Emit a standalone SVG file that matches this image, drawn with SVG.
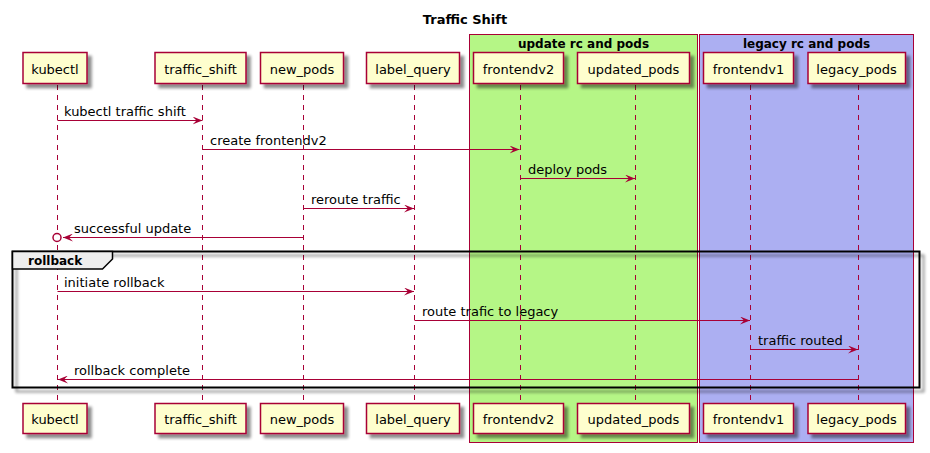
<svg xmlns="http://www.w3.org/2000/svg" width="930" height="453" viewBox="0 0 930 453">
<defs>
<filter id="sh" x="-20%" y="-20%" width="150%" height="160%">
<feGaussianBlur in="SourceAlpha" stdDeviation="1.8" result="b"/>
<feOffset in="b" dx="4" dy="4" result="o"/>
<feComponentTransfer in="o" result="o2"><feFuncA type="linear" slope="0.45"/></feComponentTransfer>
<feMerge><feMergeNode in="o2"/><feMergeNode in="SourceGraphic"/></feMerge>
</filter>
<marker id="ah" viewBox="0 0 10 8" refX="10" refY="4" markerWidth="10" markerHeight="8" markerUnits="userSpaceOnUse" orient="auto">
<polygon points="0,0 10,4 0,8 4,4" fill="#A80036"/>
</marker>
</defs>
<style>
.t{font-family:"DejaVu Sans",Verdana,sans-serif;font-size:13px;fill:#000}
.b{font-family:"DejaVu Sans",Verdana,sans-serif;font-weight:bold;fill:#000}
.p{fill:#FEFECE;stroke:#A80036;stroke-width:1.5}
.ll{stroke:#A80036;stroke-width:1;stroke-dasharray:5,5;fill:none}
.m{stroke:#A80036;stroke-width:1;fill:none}
.ma{stroke:#A80036;stroke-width:1;fill:none;marker-end:url(#ah)}
</style>
<rect width="930" height="453" fill="#FFFFFF"/>
<text class="b" x="465" y="24" font-size="13" text-anchor="middle">Traffic Shift</text>

<g id="box-update">
<rect x="469.5" y="34.5" width="228" height="408" fill="#B5F686" stroke="#A80036" stroke-width="1"/>
<text class="b" x="583.5" y="48" font-size="12" text-anchor="middle">update rc and pods</text>
</g>
<g id="box-legacy">
<rect x="699.5" y="34.5" width="214" height="408" fill="#ACAFF2" stroke="#A80036" stroke-width="1"/>
<text class="b" x="806.5" y="48" font-size="12" text-anchor="middle">legacy rc and pods</text>
</g>

<g id="lifelines">
<line class="ll" x1="57.5" y1="85" x2="57.5" y2="403"/>
<line class="ll" x1="202.5" y1="85" x2="202.5" y2="403"/>
<line class="ll" x1="303.5" y1="85" x2="303.5" y2="403"/>
<line class="ll" x1="414.5" y1="85" x2="414.5" y2="403"/>
<line class="ll" x1="520.5" y1="85" x2="520.5" y2="403"/>
<line class="ll" x1="635.5" y1="85" x2="635.5" y2="403"/>
<line class="ll" x1="750.5" y1="85" x2="750.5" y2="403"/>
<line class="ll" x1="858.5" y1="85" x2="858.5" y2="403"/>
</g>

<g id="frame-rollback">
<rect x="12.5" y="251.5" width="907" height="136" fill="none" stroke="#000" stroke-width="2" filter="url(#sh)"/>
<polygon points="12.5,251.5 112.5,251.5 112.5,259 102.5,269 12.5,269" fill="#EEEEEE" stroke="#000" stroke-width="1.5"/>
<text class="b" x="28" y="265" font-size="12">rollback</text>
</g>

<g id="participants">
<g id="p-kubectl"><rect class="p" x="23" y="52.5" width="64" height="31" filter="url(#sh)"/><text class="t" x="55" y="73.5" text-anchor="middle">kubectl</text>
<rect class="p" x="23" y="403.5" width="64" height="30" filter="url(#sh)"/><text class="t" x="55" y="423.5" text-anchor="middle">kubectl</text></g>
<g id="p-traffic_shift"><rect class="p" x="155" y="52.5" width="91" height="31" filter="url(#sh)"/><text class="t" x="200.5" y="73.5" text-anchor="middle">traffic_shift</text>
<rect class="p" x="155" y="403.5" width="91" height="30" filter="url(#sh)"/><text class="t" x="200.5" y="423.5" text-anchor="middle">traffic_shift</text></g>
<g id="p-new_pods"><rect class="p" x="260.5" y="52.5" width="83" height="31" filter="url(#sh)"/><text class="t" x="302" y="73.5" text-anchor="middle">new_pods</text>
<rect class="p" x="260.5" y="403.5" width="83" height="30" filter="url(#sh)"/><text class="t" x="302" y="423.5" text-anchor="middle">new_pods</text></g>
<g id="p-label_query"><rect class="p" x="366.5" y="52.5" width="93" height="31" filter="url(#sh)"/><text class="t" x="413" y="73.5" text-anchor="middle">label_query</text>
<rect class="p" x="366.5" y="403.5" width="93" height="30" filter="url(#sh)"/><text class="t" x="413" y="423.5" text-anchor="middle">label_query</text></g>
<g id="p-frontendv2"><rect class="p" x="473.5" y="52.5" width="90" height="31" filter="url(#sh)"/><text class="t" x="518.5" y="73.5" text-anchor="middle">frontendv2</text>
<rect class="p" x="473.5" y="403.5" width="90" height="30" filter="url(#sh)"/><text class="t" x="518.5" y="423.5" text-anchor="middle">frontendv2</text></g>
<g id="p-updated_pods"><rect class="p" x="577.5" y="52.5" width="112" height="31" filter="url(#sh)"/><text class="t" x="633.5" y="73.5" text-anchor="middle">updated_pods</text>
<rect class="p" x="577.5" y="403.5" width="112" height="30" filter="url(#sh)"/><text class="t" x="633.5" y="423.5" text-anchor="middle">updated_pods</text></g>
<g id="p-frontendv1"><rect class="p" x="703.5" y="52.5" width="90" height="31" filter="url(#sh)"/><text class="t" x="748.5" y="73.5" text-anchor="middle">frontendv1</text>
<rect class="p" x="703.5" y="403.5" width="90" height="30" filter="url(#sh)"/><text class="t" x="748.5" y="423.5" text-anchor="middle">frontendv1</text></g>
<g id="p-legacy_pods"><rect class="p" x="808" y="52.5" width="97.5" height="31" filter="url(#sh)"/><text class="t" x="856.5" y="73.5" text-anchor="middle">legacy_pods</text>
<rect class="p" x="808" y="403.5" width="97.5" height="30" filter="url(#sh)"/><text class="t" x="856.5" y="423.5" text-anchor="middle">legacy_pods</text></g>
</g>

<g id="connectors">
<line class="ma" x1="57.5" y1="120.5" x2="202.5" y2="120.5"/>
<text class="t" x="64" y="116">kubectl traffic shift</text>
<line class="ma" x1="202.5" y1="149.5" x2="519.5" y2="149.5"/>
<text class="t" x="210" y="145">create frontendv2</text>
<line class="ma" x1="520.5" y1="178.5" x2="635" y2="178.5"/>
<text class="t" x="528" y="174">deploy pods</text>
<line class="ma" x1="303.5" y1="208.5" x2="414" y2="208.5"/>
<text class="t" x="311" y="204">reroute traffic</text>
<line class="ma" x1="303.5" y1="237.5" x2="63" y2="237.5"/>
<circle cx="57" cy="237.5" r="4" fill="#FFFFFF" stroke="#A80036" stroke-width="1.5"/>
<text class="t" x="74" y="233">successful update</text>
<line class="ma" x1="57.5" y1="291.5" x2="414" y2="291.5"/>
<text class="t" x="64" y="287">initiate rollback</text>
<line class="ma" x1="414.5" y1="320.5" x2="750" y2="320.5"/>
<text class="t" x="422" y="316">route trafic to legacy</text>
<line class="ma" x1="750.5" y1="349.5" x2="858" y2="349.5"/>
<text class="t" x="758" y="345">traffic routed</text>
<line class="ma" x1="858.5" y1="379.5" x2="58" y2="379.5"/>
<text class="t" x="74" y="375">rollback complete</text>
</g>
</svg>
